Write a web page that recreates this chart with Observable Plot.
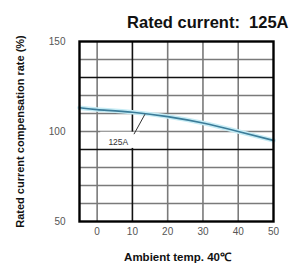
<!DOCTYPE html>
<html>
<head>
<meta charset="utf-8">
<script src="https://cdn.jsdelivr.net/npm/d3@7"></script>
<script src="https://cdn.jsdelivr.net/npm/@observablehq/plot@0.6"></script>
<style>
  html, body { margin: 0; padding: 0; background: #fff; }
  #chart { width: 291px; height: 270px; }
</style>
</head>
<body>
<div id="chart"></div>
<script>
// Data
const temps = [-5, 0, 10, 20, 30, 40, 50];
const rates = [113.2, 112.2, 110.7, 108.3, 104.7, 100, 95];
const xTicks = [0, 10, 20, 30, 40, 50];
const yTicks = [50, 100, 150];
const xGrid = [0, 10, 20, 30, 40];
const xGridDark = [10];
const yGrid = [60, 70, 80, 90, 100, 110, 120, 130, 140];
const yGridDark = [90, 130];
const seriesLabel = "125A";
const labelPos = {x: 6, y: 94.2};
const labelBox = {x1: 1, x2: 12.2, y1: 90.6, y2: 99.6};
const leader = [{x: 10.5, y: 98.7}, {x: 13.5, y: 109.4}];
const title = "Rated current:  125A";
const xTitle = "Ambient temp. 40\u2103";
const yTitle = "Rated current compensation rate (%)";

const pts = temps.map((t, i) => ({t, r: rates[i]}));
const font = "Liberation Sans, Arial, Helvetica, sans-serif";

const chart = Plot.plot({
  width: 291,
  height: 270,
  marginLeft: 79,
  marginRight: 18,
  marginTop: 41,
  marginBottom: 49,
  style: {fontFamily: font, background: "#fff", overflow: "visible"},
  x: {domain: [-5, 50], axis: null},
  y: {domain: [50, 150], axis: null},
  marks: [
    Plot.ruleY(yGrid.filter(v => !yGridDark.includes(v)), {stroke: "#7a7a7a", strokeWidth: 1.6}),
    Plot.ruleX(xGrid.filter(v => !xGridDark.includes(v)), {stroke: "#7a7a7a", strokeWidth: 1.6}),
    Plot.ruleY(yGridDark, {stroke: "#111", strokeWidth: 1.6}),
    Plot.ruleX(xGridDark, {stroke: "#111", strokeWidth: 1.6}),
    Plot.rect([labelBox], {x1: "x1", x2: "x2", y1: "y1", y2: "y2", fill: "#fff"}),
    Plot.line(pts, {x: "t", y: "r", curve: "natural", stroke: "#c6ecf5", strokeWidth: 4.5}),
    Plot.line(pts, {x: "t", y: "r", curve: "natural", stroke: "#3b7c99", strokeWidth: 1.7}),
    Plot.line(leader, {x: "x", y: "y", stroke: "#333", strokeWidth: 1}),
    Plot.text([labelPos], {x: "x", y: "y", text: () => seriesLabel, fontSize: 8.5, fill: "#333"}),
    Plot.frame({stroke: "#000", strokeWidth: 2.4}),
    Plot.text(xTicks, {x: d => d, frameAnchor: "bottom", dy: 13, text: d => String(d), fontSize: 10, fill: "#555"}),
    Plot.text(yTicks, {y: d => d, frameAnchor: "left", dx: -14, textAnchor: "end", text: d => String(d), fontSize: 10, fill: "#555"}),
    Plot.text([xTitle], {frameAnchor: "bottom", dy: 39, dx: 1, text: d => d, fontSize: 11.5, fontWeight: "bold", fill: "#111", textAnchor: "middle"}),
    Plot.text([yTitle], {frameAnchor: "left", dx: -59, rotate: -90, textAnchor: "middle", text: d => d, fontSize: 11, fontWeight: "bold", fill: "#111"}),
    Plot.text([title], {frameAnchor: "top-right", dy: -25, dx: 15, textAnchor: "end", text: d => d, fontSize: 16.5, fontWeight: "bold", fill: "#111"})
  ]
});
document.getElementById("chart").appendChild(chart);
</script>
</body>
</html>
